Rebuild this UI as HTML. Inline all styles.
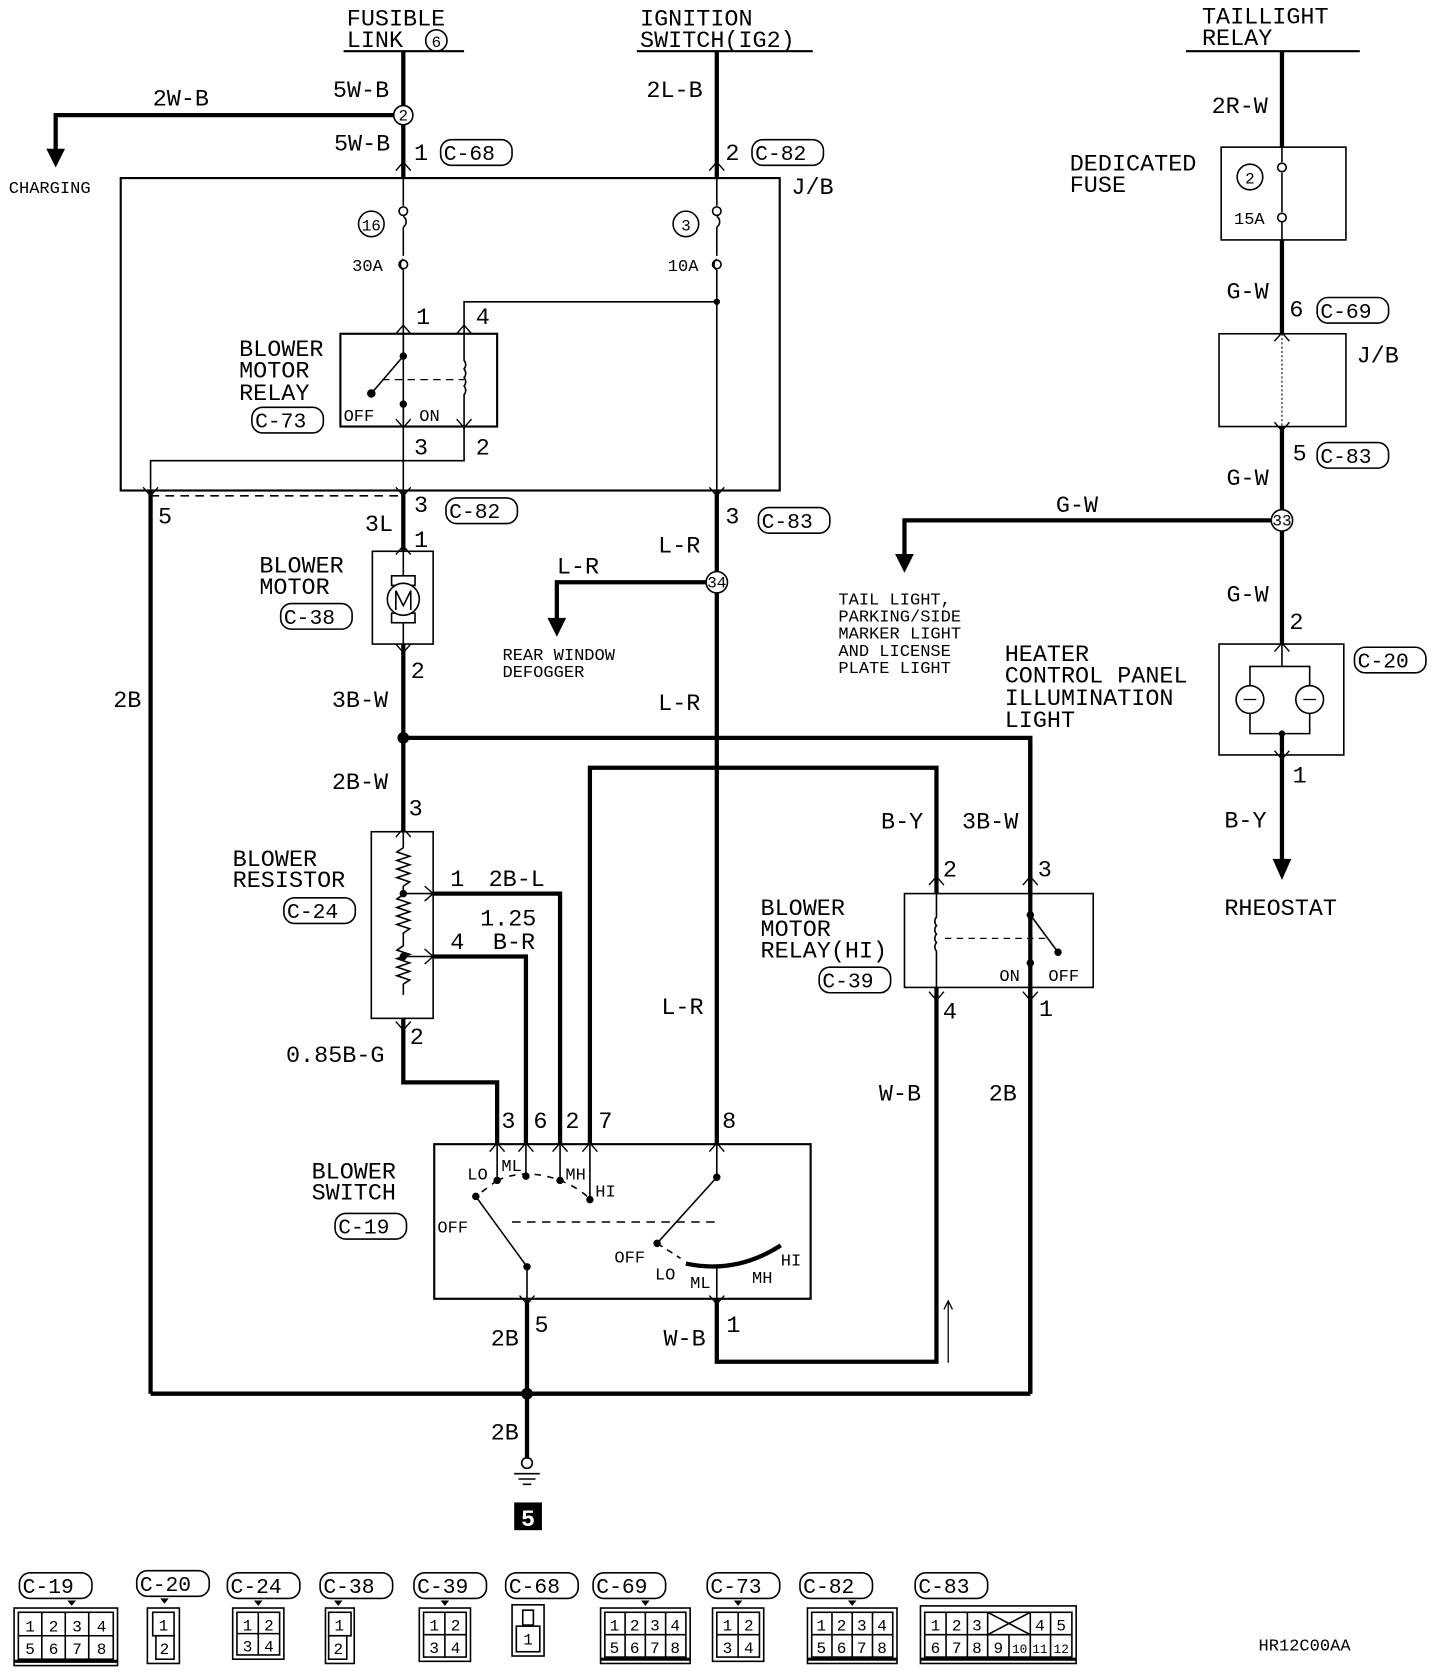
<!DOCTYPE html>
<html><head><meta charset="utf-8"><style>
html,body{margin:0;padding:0;background:#fff;}
svg{display:block}
text{font-family:"Liberation Mono",monospace;fill:#000;}
.l{font-size:22px}
.s{font-size:16px}
.c{font-size:20px}
</style></head><body>
<svg width="1440" height="1672" viewBox="0 0 1350 1568" xmlns="http://www.w3.org/2000/svg">
<g stroke="#000" fill="none">
<line x1="322" y1="48" x2="435" y2="48" stroke-width="2"/>
<line x1="597" y1="48" x2="762" y2="48" stroke-width="2"/>
<line x1="1112" y1="48" x2="1275" y2="48" stroke-width="2"/>
<line x1="378" y1="48" x2="378" y2="168" stroke-width="4"/>
<polyline points="378,108 52,108 52,145" stroke-width="4"/>
<path d="M44,140 L52,156 L60,140 Z" fill="#000"/>
<line x1="672" y1="48" x2="672" y2="168" stroke-width="4"/>
<rect x="113" y="167" width="618" height="293" stroke-width="2"/>
<line x1="378" y1="168" x2="378" y2="193" stroke-width="1.5"/>
<path d="M378,203 a6,6 0 0 1 0,10 M378,213 v27 M378,243 a6,6 0 0 0 0,10" stroke-width="1.5"/>
<line x1="378" y1="253" x2="378" y2="460" stroke-width="1.5"/>
<line x1="672" y1="168" x2="672" y2="193" stroke-width="1.5"/>
<path d="M672,203 a6,6 0 0 1 0,10 M672,213 v27 M672,243 a6,6 0 0 0 0,10" stroke-width="1.5"/>
<line x1="672" y1="253" x2="672" y2="460" stroke-width="1.5"/>
<circle cx="378" cy="198" r="4" stroke-width="1.5"/><circle cx="378" cy="248" r="4" stroke-width="1.5"/>
<circle cx="672" cy="198" r="4" stroke-width="1.5"/><circle cx="672" cy="248" r="4" stroke-width="1.5"/>
<polyline points="672,283 435,283 435,313" stroke-width="1.5"/>
<circle cx="672" cy="283" r="2.5" fill="#000"/>
<rect x="319" y="313" width="147" height="87" stroke-width="2"/>
<line x1="378" y1="313" x2="378" y2="334" stroke-width="1.5"/>
<line x1="378" y1="334" x2="348" y2="369" stroke-width="1.5"/>
<circle cx="378" cy="334" r="3" fill="#000"/><circle cx="348" cy="369" r="3.5" fill="#000"/><circle cx="378" cy="379" r="3" fill="#000"/>
<line x1="378" y1="379" x2="378" y2="400" stroke-width="1.5"/>
<line x1="358" y1="356" x2="435" y2="356" stroke-width="1.2" stroke-dasharray="7,5"/>
<path d="M435,313 v25 a6,6 0 0 1 0,8 a6,6 0 0 1 0,8 a6,6 0 0 1 0,8 a6,6 0 0 1 0,8 v33" stroke-width="1.5"/>
<polyline points="435,400 435,432 141,432 141,460" stroke-width="1.5"/>
<line x1="141" y1="465" x2="378" y2="465" stroke-width="1.5" stroke-dasharray="8,6"/>
<g stroke-width="1.3">
<path d="M371,160 l7,-8 l7,8 M371,313 l7,-8 l7,8 M428,313 l7,-8 l7,8 M665,160 l7,-8 l7,8 M371,393 l7,8 l7,-8 M428,393 l7,8 l7,-8 M371,457 l7,8 l7,-8 M665,457 l7,8 l7,-8 M134,457 l7,8 l7,-8 M371,520 l7,-8 l7,8 M371,604 l7,8 l7,-8 M371,785 l7,-8 l7,8 M371,958 l7,8 l7,-8 M398,831 l8,7 l-8,7 M398,890 l8,7 l-8,7 M459,1080 l7,-8 l7,8 M486,1080 l7,-8 l7,8 M518,1080 l7,-8 l7,8 M546,1080 l7,-8 l7,8 M665,1080 l7,-8 l7,8 M487,1215 l7,8 l7,-8 M665,1215 l7,8 l7,-8 M871,830 l7,-8 l7,8 M959,830 l7,-8 l7,8 M871,930 l7,8 l7,-8 M959,930 l7,8 l7,-8 M1195,320 l7,-8 l7,8 M1195,396 l7,8 l7,-8 M1195,611 l7,-8 l7,8 M1195,704 l7,8 l7,-8"/>
</g>
<line x1="141" y1="460" x2="141" y2="1307" stroke-width="4"/>
<line x1="378" y1="460" x2="378" y2="517" stroke-width="4"/>
<line x1="672" y1="460" x2="672" y2="1073" stroke-width="4"/>
<polyline points="672,546 522,546 522,585" stroke-width="4"/>
<path d="M514,580 L522,596 L530,580 Z" fill="#000"/>
<rect x="349" y="517" width="57" height="87" stroke-width="1.5"/>
<rect x="367" y="540" width="22" height="9" stroke-width="1.5"/>
<rect x="367" y="575" width="22" height="9" stroke-width="1.5"/>
<circle cx="378" cy="562" r="15" stroke-width="1.5" fill="#fff"/>
<path d="M371,572 v-18 l7,14 l7,-14 v18" stroke-width="1.5"/>
<line x1="378" y1="517" x2="378" y2="540" stroke-width="1.5"/><line x1="378" y1="584" x2="378" y2="604" stroke-width="1.5"/>
<line x1="378" y1="604" x2="378" y2="780" stroke-width="4"/>
<polyline points="378,692 966,692 966,1307" stroke-width="4"/>
<circle cx="378" cy="692" r="5" fill="#000"/>
<rect x="348" y="780" width="58" height="175" stroke-width="1.5"/>
<path d="M378,780 v15 l-6,4 l12,4 l-12,4 l12,4 l-12,4 l12,4 l-12,4 l12,4 l-6,4 v8 l-6,4 l12,4 l-12,4 l12,4 l-12,4 l12,4 l-12,4 l12,4 l-6,4 v12 l-6,4 l12,4 l-12,4 l12,4 l-12,4 l12,4 l-12,4 l12,4 l-6,4 v10" stroke-width="1.5"/>
<circle cx="378" cy="838" r="3" fill="#000"/><circle cx="378" cy="897" r="3" fill="#000"/>
<line x1="378" y1="838" x2="406" y2="838" stroke-width="1.5"/><line x1="378" y1="897" x2="406" y2="897" stroke-width="1.5"/>
<polyline points="406,838 525,838 525,1073" stroke-width="4"/>
<polyline points="406,897 493,897 493,1073" stroke-width="4"/>
<polyline points="378,955 378,1015 466,1015 466,1073" stroke-width="4"/>
<polyline points="553,1073 553,720 878,720 878,838" stroke-width="4"/>
<rect x="407" y="1073" width="353" height="145" stroke-width="2"/>
<g stroke-width="1.5">
<line x1="466" y1="1073" x2="466" y2="1107"/><line x1="493" y1="1073" x2="493" y2="1103"/><line x1="525" y1="1073" x2="525" y2="1107"/><line x1="553" y1="1073" x2="553" y2="1125"/>
<path d="M466,1107 Q493,1095 525,1107 Q545,1115 553,1125" stroke-dasharray="6,6"/>
<path d="M466,1107 L446,1122" stroke-dasharray="6,6"/>
<line x1="446" y1="1122" x2="494" y2="1188"/>
<line x1="494" y1="1188" x2="494" y2="1218"/>
<line x1="480" y1="1146" x2="672" y2="1146" stroke-dasharray="8,6"/>
<line x1="672" y1="1073" x2="672" y2="1104"/><line x1="672" y1="1104" x2="616" y2="1166"/>
<path d="M616,1166 L638,1180" stroke-dasharray="6,5"/>
<line x1="672" y1="1188" x2="672" y2="1218"/>
</g>
<circle cx="466" cy="1107" r="3" fill="#000"/><circle cx="493" cy="1103" r="3" fill="#000"/><circle cx="525" cy="1107" r="3" fill="#000"/><circle cx="553" cy="1125" r="3" fill="#000"/>
<circle cx="446" cy="1122" r="3" fill="#000"/><circle cx="494" cy="1188" r="3" fill="#000"/><circle cx="672" cy="1104" r="3" fill="#000"/><circle cx="616" cy="1166" r="3" fill="#000"/>
<path d="M643,1185 Q690,1195 732,1168" stroke-width="4"/>
<line x1="494" y1="1218" x2="494" y2="1368" stroke-width="4"/>
<polyline points="672,1218 672,1277 878,1277 878,926" stroke-width="4"/>
<line x1="889" y1="1278" x2="889" y2="1220" stroke-width="1.2"/><path d="M885,1228 l4,-8 l4,8" stroke-width="1.2"/>
<line x1="141" y1="1307" x2="966" y2="1307" stroke-width="4"/>
<circle cx="494" cy="1307" r="5" fill="#000"/>
<circle cx="494" cy="1372" r="5" stroke-width="1.5"/>
<line x1="482" y1="1382" x2="506" y2="1382" stroke-width="1.5"/><line x1="486" y1="1387" x2="502" y2="1387" stroke-width="1.5"/><line x1="490" y1="1392" x2="498" y2="1392" stroke-width="1.5"/>
<rect x="482" y="1409" width="26" height="26" fill="#000" stroke="none"/>
<rect x="848" y="838" width="177" height="88" stroke-width="1.5"/>
<path d="M878,838 v22 a6,6 0 0 0 0,8 a6,6 0 0 0 0,8 a6,6 0 0 0 0,8 a6,6 0 0 0 0,8 v34" stroke-width="1.5"/>
<line x1="886" y1="880" x2="985" y2="880" stroke-width="1.2" stroke-dasharray="6,5"/>
<line x1="966" y1="838" x2="966" y2="858" stroke-width="1.5"/><line x1="966" y1="858" x2="992" y2="893" stroke-width="1.5"/>
<circle cx="966" cy="858" r="3" fill="#000"/><circle cx="992" cy="893" r="3" fill="#000"/><circle cx="966" cy="903" r="3" fill="#000"/>
<line x1="966" y1="903" x2="966" y2="926" stroke-width="1.5"/>
<line x1="966" y1="926" x2="966" y2="1307" stroke-width="4"/>
<line x1="966" y1="692" x2="966" y2="838" stroke-width="4"/>
<line x1="1202" y1="48" x2="1202" y2="138" stroke-width="4"/>
<rect x="1145" y="138" width="117" height="87" stroke-width="1.5"/>
<path d="M1202,138 v14 M1202,162 v37" stroke-width="1.5"/>
<circle cx="1202" cy="157" r="4" stroke-width="1.5"/><circle cx="1202" cy="204" r="4" stroke-width="1.5"/>
<line x1="1202" y1="208" x2="1202" y2="225" stroke-width="1.5"/>
<circle cx="1172" cy="166" r="12" stroke-width="1.5"/>
<line x1="1202" y1="225" x2="1202" y2="313" stroke-width="4"/>
<rect x="1143" y="313" width="119" height="87" stroke-width="1.5"/>
<line x1="1202" y1="313" x2="1202" y2="400" stroke-width="1" stroke-dasharray="2,2"/>
<line x1="1202" y1="400" x2="1202" y2="604" stroke-width="4"/>
<polyline points="1202,488 848,488 848,525" stroke-width="4"/>
<path d="M840,520 L848,536 L856,520 Z" fill="#000"/>
<rect x="1143" y="604" width="117" height="104" stroke-width="1.5"/>
<polyline points="1202,604 1202,625 1172,625 1172,688 1228,688 1228,625 1202,625" stroke-width="1.5"/>
<circle cx="1172" cy="656" r="13" stroke-width="1.5" fill="#fff"/><circle cx="1228" cy="656" r="13" stroke-width="1.5" fill="#fff"/>
<path d="M1166,656 h12 M1222,656 h12" stroke-width="1.2"/>
<circle cx="1202" cy="688" r="2.5" fill="#000"/>
<line x1="1202" y1="688" x2="1202" y2="810" stroke-width="4"/>
<path d="M1194,806 L1202,824 L1210,806 Z" fill="#000"/>
<g fill="#fff" stroke-width="1.5">
<circle cx="378" cy="108" r="9"/><circle cx="672" cy="546" r="10"/><circle cx="1202" cy="488" r="10"/>
<circle cx="348" cy="210" r="12"/><circle cx="643" cy="210" r="12"/>
</g>
<g stroke-width="1.5">
<rect x="413" y="131" width="67" height="24" rx="10"/>
<rect x="705" y="131" width="67" height="24" rx="10"/>
<rect x="1235" y="279" width="67" height="24" rx="10"/>
<rect x="1235" y="415" width="67" height="24" rx="10"/>
<rect x="236" y="382" width="67" height="24" rx="10"/>
<rect x="418" y="467" width="67" height="24" rx="10"/>
<rect x="711" y="476" width="67" height="24" rx="10"/>
<rect x="263" y="566" width="67" height="24" rx="10"/>
<rect x="266" y="842" width="67" height="24" rx="10"/>
<rect x="768" y="907" width="67" height="24" rx="10"/>
<rect x="1270" y="607" width="67" height="24" rx="10"/>
<rect x="314" y="1138" width="67" height="24" rx="10"/>
</g>
<g stroke-width="1.5">
<rect x="18" y="1475" width="68" height="24" rx="10"/><rect x="128" y="1473" width="68" height="24" rx="10"/><rect x="213" y="1475" width="68" height="24" rx="10"/><rect x="300" y="1475" width="68" height="24" rx="10"/><rect x="388" y="1475" width="68" height="24" rx="10"/><rect x="474" y="1475" width="68" height="24" rx="10"/><rect x="556" y="1475" width="68" height="24" rx="10"/><rect x="663" y="1475" width="68" height="24" rx="10"/><rect x="750" y="1475" width="68" height="24" rx="10"/><rect x="858" y="1475" width="68" height="24" rx="10"/>
<rect x="13" y="1508" width="97" height="54"/><rect x="17" y="1512" width="89" height="44"/><line x1="17" y1="1534" x2="106" y2="1534"/><line x1="39" y1="1512" x2="39" y2="1556"/><line x1="61" y1="1512" x2="61" y2="1556"/><line x1="83" y1="1512" x2="83" y2="1556"/><line x1="13" y1="1558" x2="110" y2="1558" stroke-width="3"/>
<rect x="138" y="1508" width="30" height="52"/><rect x="143" y="1512" width="20" height="22"/><rect x="146" y="1534" width="17" height="22"/>
<rect x="218" y="1508" width="48" height="48"/><line x1="222" y1="1532" x2="262" y2="1532"/><line x1="242" y1="1512" x2="242" y2="1552"/><rect x="222" y="1512" width="40" height="40"/>
<rect x="305" y="1508" width="27" height="52"/><rect x="308" y="1512" width="21" height="22"/><rect x="308" y="1534" width="17" height="22"/>
<rect x="393" y="1508" width="48" height="50"/><rect x="397" y="1512" width="40" height="42"/><line x1="397" y1="1533" x2="437" y2="1533"/><line x1="417" y1="1512" x2="417" y2="1554"/>
<rect x="480" y="1505" width="30" height="48"/><rect x="490" y="1510" width="10" height="14"/><rect x="484" y="1525" width="22" height="24"/>
<rect x="563" y="1508" width="84" height="52"/><rect x="567" y="1512" width="76" height="42"/><line x1="567" y1="1533" x2="643" y2="1533"/><line x1="586" y1="1512" x2="586" y2="1554"/><line x1="605" y1="1512" x2="605" y2="1554"/><line x1="624" y1="1512" x2="624" y2="1554"/><line x1="563" y1="1556" x2="647" y2="1556" stroke-width="3"/>
<rect x="668" y="1508" width="48" height="50"/><rect x="672" y="1512" width="40" height="42"/><line x1="672" y1="1533" x2="712" y2="1533"/><line x1="692" y1="1512" x2="692" y2="1554"/>
<rect x="757" y="1508" width="84" height="52"/><rect x="761" y="1512" width="76" height="42"/><line x1="761" y1="1533" x2="837" y2="1533"/><line x1="780" y1="1512" x2="780" y2="1554"/><line x1="799" y1="1512" x2="799" y2="1554"/><line x1="818" y1="1512" x2="818" y2="1554"/><line x1="757" y1="1556" x2="841" y2="1556" stroke-width="3"/>
<rect x="863" y="1506" width="146" height="54"/><rect x="867" y="1512" width="138" height="42"/><line x1="867" y1="1533" x2="1005" y2="1533"/>
<line x1="887" y1="1512" x2="887" y2="1554"/><line x1="907" y1="1512" x2="907" y2="1554"/><line x1="926" y1="1512" x2="926" y2="1554"/><line x1="946" y1="1533" x2="946" y2="1554"/><line x1="966" y1="1512" x2="966" y2="1554"/><line x1="985" y1="1512" x2="985" y2="1554"/><line x1="926" y1="1512" x2="966" y2="1533"/><line x1="966" y1="1512" x2="926" y2="1533"/><line x1="863" y1="1556" x2="1009" y2="1556" stroke-width="3"/>
</g>
<g fill="#000" stroke="none">
<path d="M63,1501 h8 l-4,5z M150,1499 h8 l-4,5z M238,1501 h8 l-4,5z M313,1501 h8 l-4,5z M413,1501 h8 l-4,5z M601,1501 h8 l-4,5z M688,1501 h8 l-4,5z M795,1501 h8 l-4,5z"/>
</g>
</g>
<g class="l">
<text x="325" y="24">FUSIBLE</text><text x="325" y="44">LINK</text>
<text x="600" y="24">IGNITION</text><text x="600" y="44">SWITCH(IG2)</text>
<text x="1127" y="22">TAILLIGHT</text><text x="1127" y="42">RELAY</text>
<text x="143" y="99">2W-B</text><text x="312" y="91">5W-B</text><text x="313" y="141">5W-B</text><text x="388" y="150">1</text>
<text x="606" y="91">2L-B</text><text x="680" y="150">2</text>
<text x="742" y="182">J/B</text>
<text x="1136" y="106">2R-W</text>
<text x="1003" y="160">DEDICATED</text><text x="1003" y="180">FUSE</text>
<text x="1150" y="280">G-W</text><text x="1209" y="297">6</text>
<text x="1272" y="340">J/B</text>
<text x="1212" y="432">5</text><text x="1150" y="455">G-W</text>
<text x="990" y="480">G-W</text>
<text x="1150" y="564">G-W</text><text x="1209" y="590">2</text>
<text x="1212" y="734">1</text>
<text x="1148" y="776">B-Y</text>
<text x="1148" y="858">RHEOSTAT</text>
<text x="942" y="620">HEATER</text><text x="942" y="640">CONTROL PANEL</text><text x="942" y="661">ILLUMINATION</text><text x="942" y="682">LIGHT</text>
<text x="224" y="334">BLOWER</text><text x="224" y="354">MOTOR</text><text x="224" y="375">RELAY</text>
<text x="390" y="304">1</text><text x="446" y="304">4</text>
<text x="388" y="426">3</text><text x="446" y="426">2</text>
<text x="148" y="491">5</text><text x="388" y="480">3</text><text x="342" y="498">3L</text><text x="388" y="513">1</text>
<text x="680" y="491">3</text><text x="617" y="518">L-R</text>
<text x="522" y="538">L-R</text>
<text x="243" y="537">BLOWER</text><text x="243" y="557">MOTOR</text>
<text x="385" y="636">2</text><text x="311" y="663">3B-W</text><text x="106" y="663">2B</text>
<text x="617" y="666">L-R</text>
<text x="311" y="740">2B-W</text><text x="383" y="765">3</text>
<text x="218" y="812">BLOWER</text><text x="218" y="832">RESISTOR</text>
<text x="422" y="831">1</text><text x="458" y="831">2B-L</text>
<text x="450" y="868">1.25</text><text x="422" y="890">4</text><text x="462" y="890">B-R</text>
<text x="384" y="979">2</text><text x="268" y="996">0.85B-G</text>
<text x="620" y="951">L-R</text>
<text x="826" y="777">B-Y</text><text x="902" y="777">3B-W</text>
<text x="884" y="822">2</text><text x="973" y="822">3</text>
<text x="713" y="858">BLOWER</text><text x="713" y="878">MOTOR</text><text x="713" y="898">RELAY(HI)</text>
<text x="884" y="955">4</text><text x="974" y="953">1</text>
<text x="824" y="1032">W-B</text><text x="927" y="1032">2B</text>
<text x="470" y="1058">3</text><text x="500" y="1058">6</text><text x="530" y="1058">2</text><text x="561" y="1058">7</text><text x="677" y="1058">8</text>
<text x="292" y="1105">BLOWER</text><text x="292" y="1125">SWITCH</text>
<text x="460" y="1262">2B</text><text x="501" y="1249">5</text>
<text x="622" y="1262">W-B</text><text x="681" y="1249">1</text>
<text x="460" y="1350">2B</text>
</g>
<g class="s">
<text x="8" y="181">CHARGING</text>
<text x="330" y="254">30A</text><text x="626" y="254">10A</text>
<text x="322" y="395">OFF</text><text x="393" y="395">ON</text>
<text x="1157" y="210">15A</text>
<text x="786" y="567">TAIL LIGHT,</text><text x="786" y="583">PARKING/SIDE</text><text x="786" y="599">MARKER LIGHT</text><text x="786" y="615">AND LICENSE</text><text x="786" y="631">PLATE LIGHT</text>
<text x="471" y="619">REAR WINDOW</text><text x="471" y="635">DEFOGGER</text>
<text x="937" y="920">ON</text><text x="983" y="920">OFF</text>
<text x="438" y="1106">LO</text><text x="470" y="1098">ML</text><text x="530" y="1106">MH</text><text x="558" y="1122">HI</text>
<text x="410" y="1156">OFF</text>
<text x="576" y="1184">OFF</text><text x="614" y="1200">LO</text><text x="647" y="1208">ML</text><text x="705" y="1203">MH</text><text x="732" y="1187">HI</text>
<text x="1180" y="1548">HR12C00AA</text>
</g>
<g class="c">
<text x="416" y="150">C-68</text><text x="708" y="150">C-82</text><text x="1238" y="298">C-69</text><text x="1238" y="434">C-83</text>
<text x="239" y="401">C-73</text><text x="421" y="486">C-82</text><text x="714" y="495">C-83</text><text x="266" y="585">C-38</text>
<text x="269" y="861">C-24</text><text x="771" y="926">C-39</text><text x="1273" y="626">C-20</text><text x="317" y="1157">C-19</text>
<text x="21" y="1494">C-19</text><text x="131" y="1492">C-20</text><text x="216" y="1494">C-24</text><text x="303" y="1494">C-38</text><text x="391" y="1494">C-39</text><text x="477" y="1494">C-68</text><text x="559" y="1494">C-69</text><text x="666" y="1494">C-73</text><text x="753" y="1494">C-82</text><text x="861" y="1494">C-83</text>
</g>
<g style="font-size:15px" text-anchor="middle">
<text x="378" y="113">2</text><text x="672" y="551">34</text><text x="1202" y="493">33</text>
<text x="348" y="216">16</text><text x="643" y="216">3</text><text x="1172" y="172">2</text>
<text x="409" y="44">6</text>
<text x="28" y="1530">1</text><text x="50" y="1530">2</text><text x="72" y="1530">3</text><text x="95" y="1530">4</text>
<text x="28" y="1551">5</text><text x="50" y="1551">6</text><text x="72" y="1551">7</text><text x="95" y="1551">8</text>
<text x="153" y="1529">1</text><text x="154" y="1551">2</text>
<text x="232" y="1529">1</text><text x="252" y="1529">2</text><text x="232" y="1549">3</text><text x="252" y="1549">4</text>
<text x="318" y="1529">1</text><text x="317" y="1551">2</text>
<text x="407" y="1529">1</text><text x="427" y="1529">2</text><text x="407" y="1550">3</text><text x="427" y="1550">4</text>
<text x="495" y="1542">1</text>
<text x="576" y="1529">1</text><text x="595" y="1529">2</text><text x="614" y="1529">3</text><text x="633" y="1529">4</text>
<text x="576" y="1550">5</text><text x="595" y="1550">6</text><text x="614" y="1550">7</text><text x="633" y="1550">8</text>
<text x="682" y="1529">1</text><text x="702" y="1529">2</text><text x="682" y="1550">3</text><text x="702" y="1550">4</text>
<text x="770" y="1529">1</text><text x="789" y="1529">2</text><text x="808" y="1529">3</text><text x="827" y="1529">4</text>
<text x="770" y="1550">5</text><text x="789" y="1550">6</text><text x="808" y="1550">7</text><text x="827" y="1550">8</text>
<text x="877" y="1529">1</text><text x="897" y="1529">2</text><text x="916" y="1529">3</text><text x="975" y="1529">4</text><text x="995" y="1529">5</text>
<text x="877" y="1550">6</text><text x="897" y="1550">7</text><text x="916" y="1550">8</text><text x="936" y="1550">9</text><text x="956" y="1550" style="font-size:12px">10</text><text x="975" y="1550" style="font-size:12px">11</text><text x="995" y="1550" style="font-size:12px">12</text>
</g>
<text x="495" y="1431" text-anchor="middle" style="font-size:22px;font-weight:bold;fill:#fff">5</text>
<circle cx="409" cy="38" r="10" fill="none" stroke="#000" stroke-width="1.5"/>
</svg>
</body></html>
